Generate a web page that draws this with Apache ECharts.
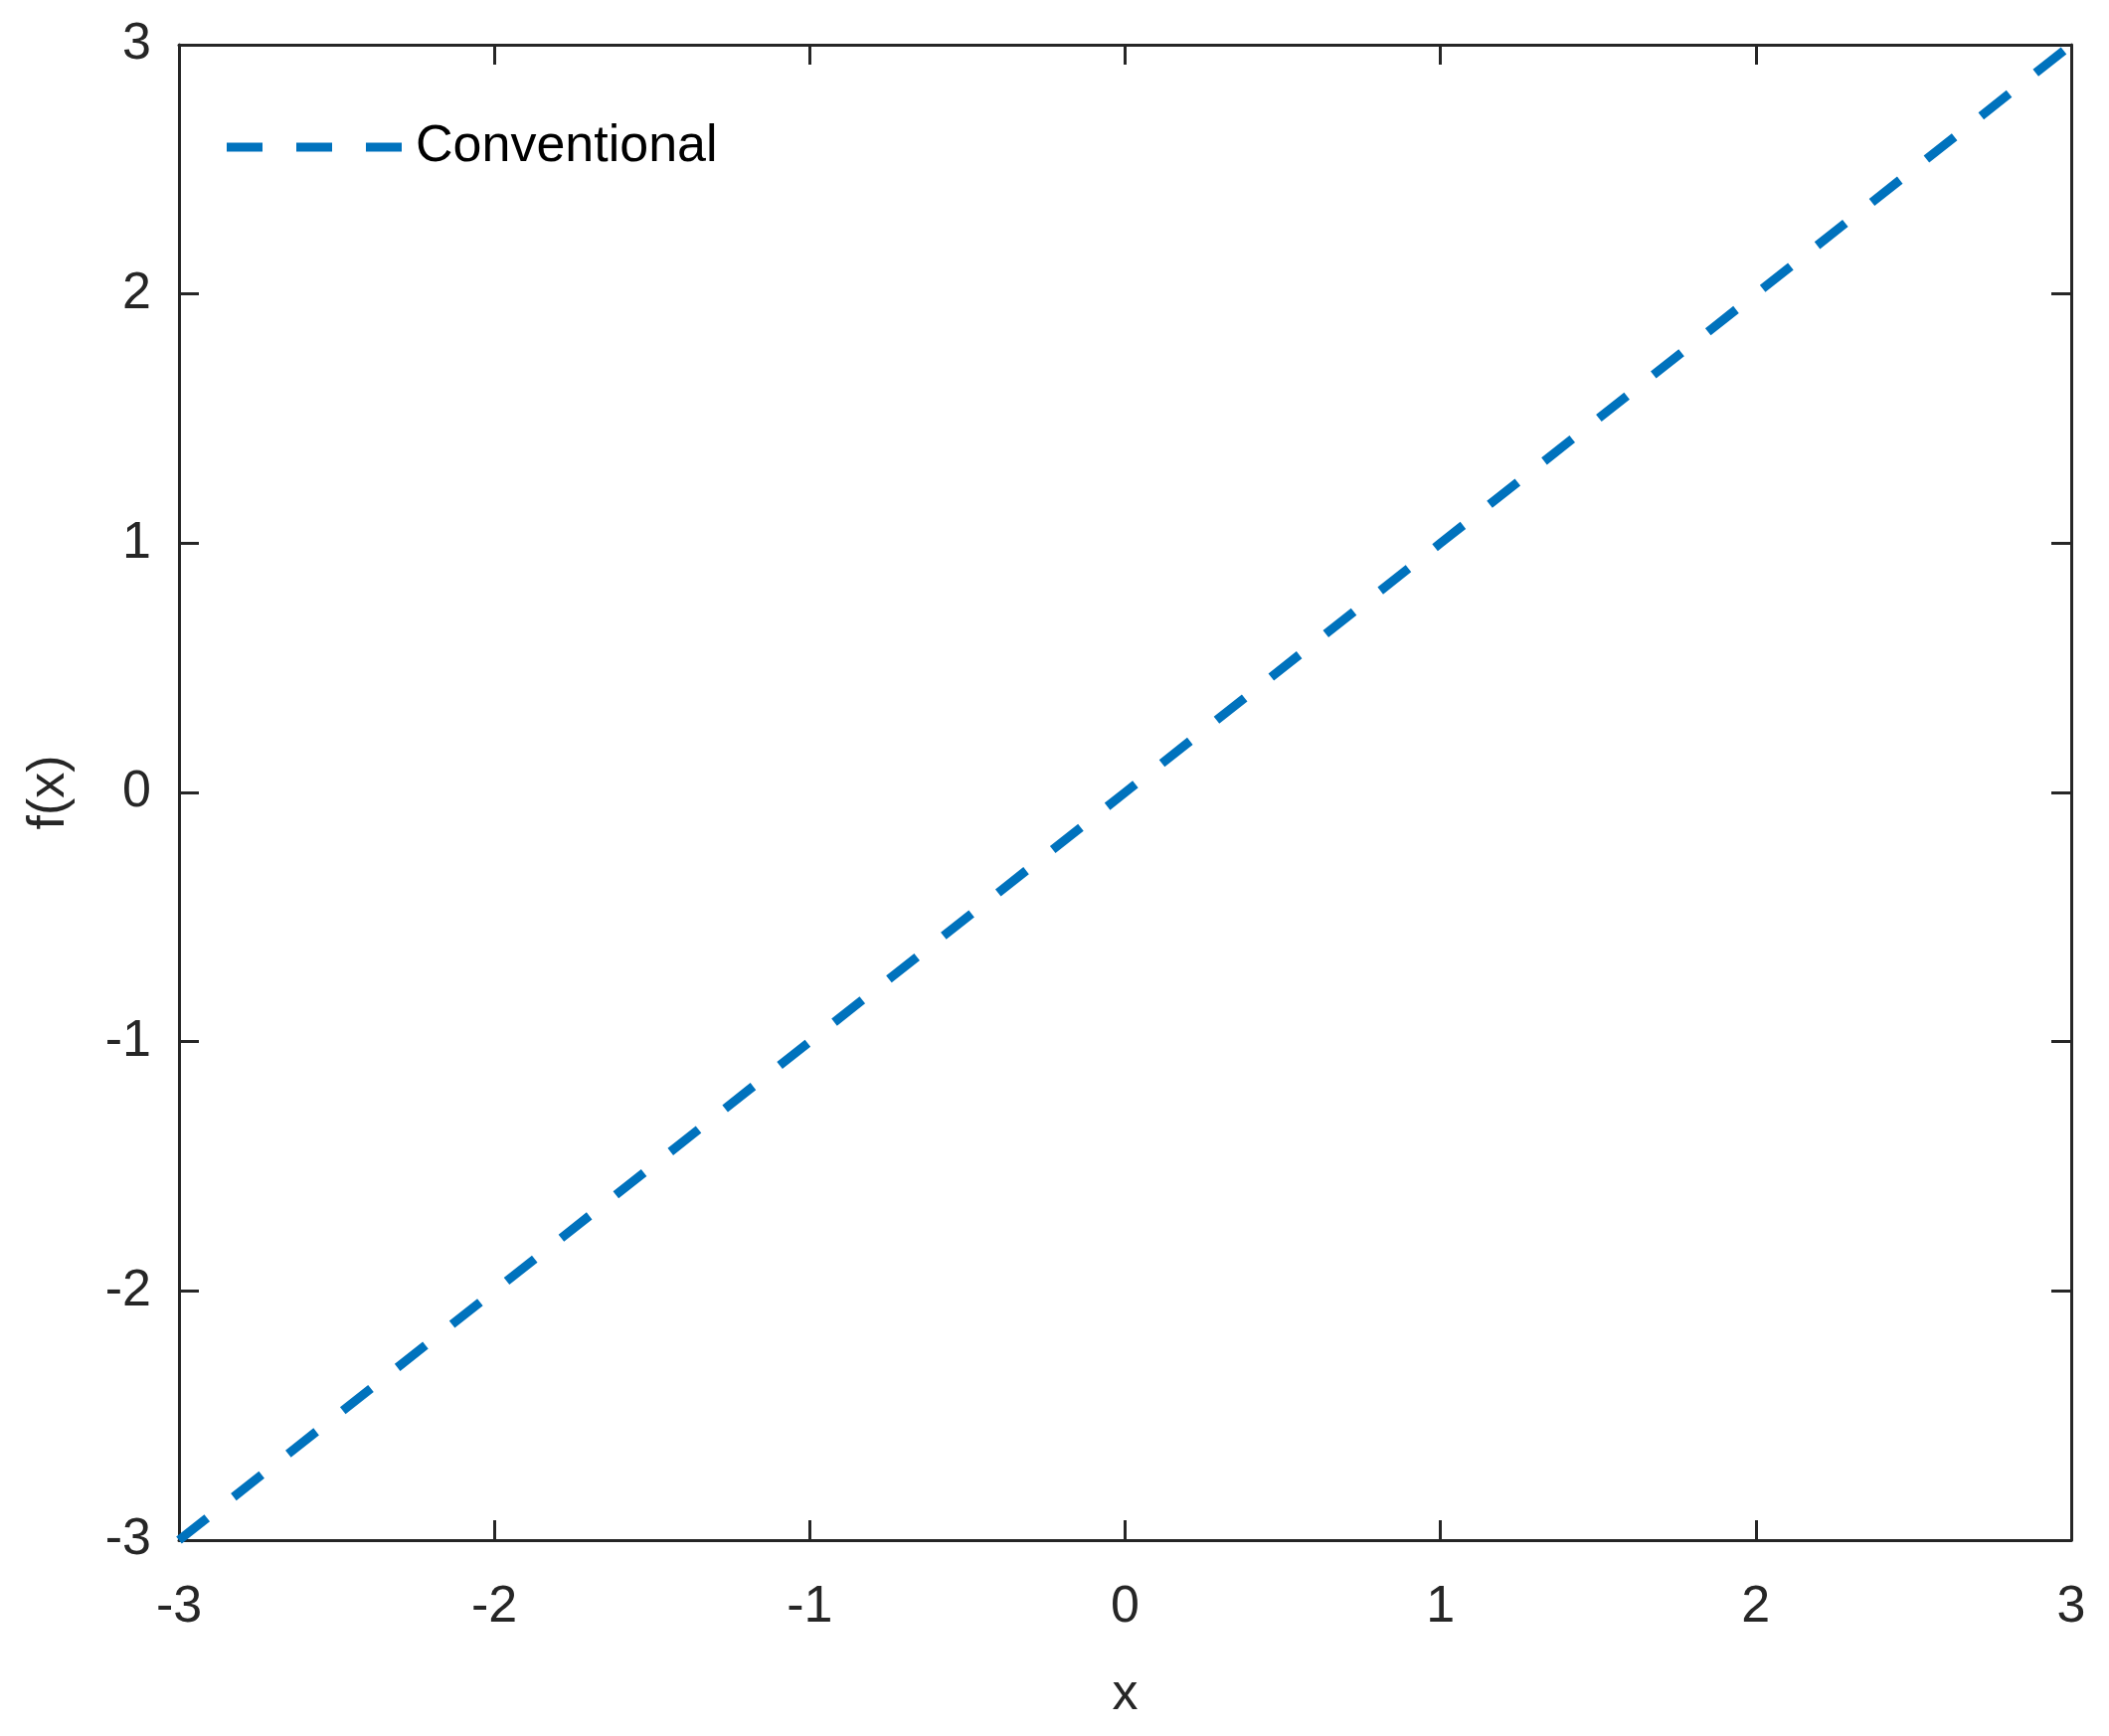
<!DOCTYPE html>
<html>
<head>
<meta charset="utf-8">
<script src="https://cdn.jsdelivr.net/npm/echarts@6/dist/echarts.min.js"></script>
<style>
html,body{margin:0;padding:0;background:#fff;}
#chart{width:2121px;height:1746px;}
</style>
</head>
<body>
<div id="chart"></div>
<script>
const seriesName = 'Conventional';
const xValues = [-3, -2, -1, 0, 1, 2, 3];
const yValues = [-3, -2, -1, 0, 1, 2, 3];
const xTicks = [-3, -2, -1, 0, 1, 2, 3];
const yTicks = [-3, -2, -1, 0, 1, 2, 3];

const axisColor = '#262626';
const lineColor = '#0072BD';
const fontFamily = '"Liberation Sans", Arial, Helvetica, sans-serif';
const fs = 52;

const chart = echarts.init(document.getElementById('chart'));
const data = xValues.map((x, i) => [x, yValues[i]]);

function baseAxis(extra) {
  return Object.assign({
    type: 'value',
    interval: 1,
    splitLine: {show: false},
    axisLine: {show: true, onZero: false, lineStyle: {color: axisColor, width: 3}},
    axisTick: {show: true, inside: true, length: 20, lineStyle: {color: axisColor, width: 3}},
  }, extra);
}

const option = {
  backgroundColor: '#fff',
  animation: false,
  grid: {left: 180, right: 38, top: 45, bottom: 197, containLabel: false},
  legend: {
    show: true,
    left: 223,
    top: 117,
    itemWidth: 176,
    itemHeight: 9,
    symbolKeepAspect: false,
    icon: 'path://M0,0h36v9h-36z M70,0h36v9h-36z M140,0h36v9h-36z',
    itemStyle: {color: lineColor, borderWidth: 0},
    lineStyle: {width: 0, opacity: 0},
    data: [seriesName],
    textStyle: {color: '#000', fontSize: fs, fontFamily: fontFamily, padding: [0, 0, 0, 9]},
  },
  xAxis: [
    baseAxis({
      position: 'bottom',
      min: xTicks[0], max: xTicks[xTicks.length - 1],
      name: 'x', nameLocation: 'middle', nameGap: 130,
      nameTextStyle: {color: axisColor, fontSize: fs, fontFamily: fontFamily},
      axisLabel: {show: true, margin: 42, color: axisColor, fontSize: fs, fontFamily: fontFamily},
    }),
    baseAxis({
      position: 'top',
      min: xTicks[0], max: xTicks[xTicks.length - 1],
      axisLabel: {show: false},
    }),
  ],
  yAxis: [
    baseAxis({
      position: 'left',
      min: yTicks[0], max: yTicks[yTicks.length - 1],
      name: 'f(x)', nameLocation: 'middle', nameGap: 104,
      nameTextStyle: {color: axisColor, fontSize: fs, fontFamily: fontFamily},
      axisLabel: {show: true, margin: 28, color: axisColor, fontSize: fs, fontFamily: fontFamily},
    }),
    baseAxis({
      position: 'right',
      min: yTicks[0], max: yTicks[yTicks.length - 1],
      axisLabel: {show: false},
    }),
  ],
  series: [{
    name: seriesName,
    type: 'line',
    xAxisIndex: 0,
    yAxisIndex: 0,
    data: data,
    symbol: 'none',
    showSymbol: false,
    clip: false,
    lineStyle: {color: lineColor, width: 9, type: [36, 34], cap: 'butt'},
    itemStyle: {color: lineColor},
  }],
};
chart.setOption(option);
</script>
</body>
</html>
